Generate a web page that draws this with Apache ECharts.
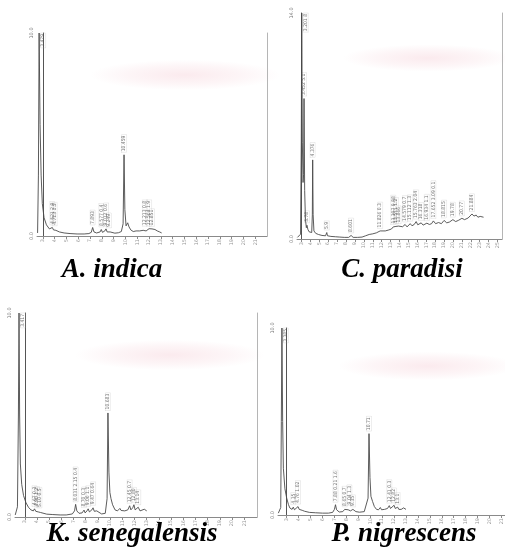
<!DOCTYPE html>
<html>
<head>
<meta charset="utf-8">
<script src="https://cdn.jsdelivr.net/npm/echarts@6/dist/echarts.min.js"></script>
<style>
  html, body { margin: 0; padding: 0; background: #fff; }
  #main { width: 505px; height: 552px; }
</style>
</head>
<body>
<div id="main"></div>
<script>
// chromatogram traces [time, response]
const indicaTrace = [[-0.45,0.15],[-0.38,3.0],[-0.32,10.0],[-0.24,5.5],[-0.15,3.0],[-0.05,1.6],[0.1,0.9],[0.3,0.55],[0.55,0.35],[0.7,0.3],[0.8,0.42],[0.9,0.3],[1.0,0.38],[1.1,0.28],[1.2,0.3],[1.4,0.2],[1.8,0.15],[2.3,0.12],[2.9,0.1],[3.5,0.1],[3.9,0.12],[4.1,0.18],[4.22,0.42],[4.33,0.2],[4.55,0.15],[4.85,0.2],[4.95,0.32],[5.05,0.18],[5.25,0.25],[5.35,0.35],[5.45,0.2],[5.6,0.28],[5.7,0.2],[5.85,0.15],[6.1,0.14],[6.4,0.16],[6.65,0.22],[6.8,0.6],[6.88,4.0],[6.95,1.3],[7.05,0.5],[7.19,0.65],[7.3,0.45],[7.45,0.3],[7.66,0.22],[7.9,0.25],[8.2,0.25],[8.5,0.28],[8.65,0.36],[8.75,0.25],[8.9,0.3],[9.0,0.36],[9.1,0.3],[9.25,0.35],[9.4,0.3],[9.5,0.32],[9.7,0.25],[9.9,0.2],[10.07,0.15]];
const paradisiTrace = [[-0.45,0.1],[-0.1,0.3],[-0.02,6],[0.03,14],[0.1,6],[0.18,3.5],[0.24,4],[0.29,8.7],[0.36,3],[0.45,1.2],[0.55,0.7],[0.62,0.85],[0.72,0.6],[0.85,0.45],[1.0,0.35],[1.15,0.4],[1.22,1.5],[1.26,4.9],[1.31,1.5],[1.4,0.5],[1.6,0.35],[1.9,0.28],[2.3,0.22],[2.7,0.2],[2.84,0.4],[2.92,0.2],[3.3,0.16],[3.8,0.14],[4.3,0.12],[4.8,0.1],[5.3,0.1],[5.57,0.22],[5.8,0.1],[6.3,0.1],[6.8,0.12],[7.2,0.2],[7.6,0.28],[8.0,0.32],[8.4,0.38],[8.83,0.5],[9.0,0.45],[9.4,0.5],[9.8,0.56],[10.1,0.62],[10.3,0.75],[10.45,0.65],[10.6,0.78],[10.75,0.68],[10.9,0.8],[11.1,0.7],[11.35,0.76],[11.63,0.9],[11.85,0.75],[12.0,0.82],[12.2,0.95],[12.4,0.82],[12.65,0.9],[12.87,1.08],[13.05,0.88],[13.25,0.92],[13.43,1.0],[13.65,0.86],[13.85,0.9],[14.07,0.98],[14.35,0.9],[14.6,0.95],[14.8,1.12],[15.05,0.95],[15.38,1.02],[15.7,0.95],[16.0,1.15],[16.3,1.0],[16.6,1.05],[16.99,1.2],[17.3,1.08],[17.6,1.15],[18.0,1.28],[18.3,1.2],[18.7,1.3],[19.13,1.55],[19.35,1.42],[19.6,1.48],[19.8,1.35],[20.05,1.4],[20.25,1.33],[20.43,1.35]];
const senegalensisTrace = [[-0.78,0.1],[-0.6,0.5],[-0.52,5],[-0.47,10],[-0.42,5],[-0.36,2.6],[-0.25,1.6],[-0.1,1.05],[0.1,0.7],[0.3,0.48],[0.5,0.35],[0.7,0.3],[0.8,0.4],[0.9,0.28],[1.0,0.36],[1.1,0.25],[1.2,0.32],[1.3,0.22],[1.45,0.18],[1.8,0.14],[2.3,0.12],[2.9,0.1],[3.4,0.1],[3.9,0.15],[4.08,0.3],[4.17,0.62],[4.27,0.3],[4.45,0.18],[4.7,0.2],[4.86,0.34],[4.95,0.2],[5.1,0.3],[5.2,0.4],[5.3,0.25],[5.5,0.35],[5.6,0.45],[5.7,0.28],[5.9,0.3],[6.0,0.22],[6.3,0.15],[6.6,0.18],[6.75,0.9],[6.82,5.1],[6.9,2.2],[6.98,1.2],[7.07,0.9],[7.2,0.6],[7.4,0.35],[7.6,0.3],[7.8,0.42],[7.9,0.32],[8.2,0.3],[8.45,0.35],[8.6,0.55],[8.7,0.35],[8.85,0.45],[8.95,0.6],[9.05,0.35],[9.2,0.3],[9.3,0.48],[9.45,0.3],[9.6,0.3],[9.8,0.38],[10.0,0.3]];
const nigrescensTrace = [[-0.7,0.1],[-0.5,0.4],[-0.45,5],[-0.4,10],[-0.34,5],[-0.28,2.5],[-0.15,1.4],[0.0,0.9],[0.15,0.55],[0.27,0.37],[0.45,0.3],[0.55,0.42],[0.65,0.28],[0.8,0.3],[0.95,0.45],[1.05,0.3],[1.2,0.38],[1.3,0.25],[1.5,0.2],[1.9,0.14],[2.4,0.12],[3.0,0.1],[3.5,0.1],[3.85,0.14],[4.0,0.3],[4.09,0.55],[4.18,0.28],[4.4,0.16],[4.7,0.18],[4.86,0.3],[4.95,0.2],[5.15,0.28],[5.25,0.38],[5.35,0.22],[5.55,0.3],[5.65,0.25],[5.8,0.18],[6.1,0.15],[6.5,0.18],[6.82,0.9],[6.9,4.35],[6.98,2.0],[7.06,1.0],[7.2,0.72],[7.35,0.45],[7.53,0.3],[7.7,0.28],[7.85,0.4],[7.95,0.28],[8.2,0.3],[8.45,0.35],[8.6,0.5],[8.7,0.35],[8.85,0.4],[9.0,0.52],[9.1,0.35],[9.3,0.42],[9.4,0.3],[9.6,0.3],[9.8,0.38],[10.0,0.3]];

// peak annotations [time of peak, label]
const indicaPeaks = [[-0.32,'3.479'],[0.8,'4.521 2.9'],[1.0,'4.713 1.5'],[4.22,'7.893'],[4.95,'8.577 0.4'],[5.35,'9.012 0.6'],[5.6,'9.249'],[6.88,'10.459'],[8.65,'12.213 0.8'],[9.0,'12.564 1.9'],[9.25,'12.851']];
const paradisiPeaks = [[0.03,'3.201 8'],[0.29,'3.452 5.1'],[0.62,'3.78'],[1.26,'4.376'],[2.84,'5.9'],[5.57,'8.601'],[8.83,'11.826 0.3'],[10.3,'13.307 0.88'],[10.6,'13.571 1.2'],[10.9,'13.866'],[11.63,'14.579 0.7'],[12.2,'15.112 1.3'],[12.87,'15.763 2.04'],[13.43,'16.318'],[14.07,'16.934 1.1'],[14.8,'17.652 3.09 0.1'],[16.0,'18.815'],[16.99,'19.78'],[18.0,'20.77'],[19.13,'21.884']];
const senegalensisPeaks = [[-0.47,'3.417'],[0.8,'4.67 0.3'],[1.0,'4.90 1.2'],[1.2,'5.10 0.5'],[4.17,'8.031 2.15 0.4'],[4.86,'8.70 0.3'],[5.2,'9.06 1.1'],[5.6,'9.47 0.64'],[6.82,'10.683'],[8.6,'12.45 0.7'],[8.95,'12.80'],[9.3,'13.14']];
const nigrescensPeaks = [[-0.4,'3.385'],[0.55,'4.35'],[0.95,'4.76 1.02'],[4.09,'7.88 0.21 1.6'],[4.86,'8.65 0.7'],[5.25,'9.04 1.3'],[5.55,'9.35'],[6.9,'10.71'],[8.6,'12.41 0.3'],[9.0,'12.82'],[9.3,'13.1']];

// tick positions along each time axis
const ticksIndica = [0,1,2,3,4,5,6,7,8,9,10,11,12,13,14,15,16,17,18];
const ticksParadisi = [0,1,2,3,4,5,6,7,8,9,10,11,12,13,14,15,16,17,18,19,20,21,22];
const ticksSenegalensis = [0,1,2,3,4,5,6,7,8,9,10,11,12,13,14,15,16,17,18];
const ticksNigrescens = [0,1,2,3,4,5,6,7,8,9,10,11,12,13,14,15,16,17,18];

const titles = ['A. indica', 'C. paradisi', 'K. senegalensis', 'P. nigrescens'];

const panels = [
  { trace: indicaTrace, peaks: indicaPeaks, ticks: ticksIndica, xMin: -0.5, xMax: 19, yMax: 10,
    grid: { left: 37, top: 33, width: 230, height: 203 }, border: true, title: [112, 257] },
  { trace: paradisiTrace, peaks: paradisiPeaks, ticks: ticksParadisi, xMin: -0.5, xMax: 22.5, yMax: 14,
    grid: { left: 297, top: 13, width: 205, height: 226 }, border: true, title: [402, 257] },
  { trace: senegalensisTrace, peaks: senegalensisPeaks, ticks: ticksSenegalensis, xMin: -0.8, xMax: 19.04, yMax: 10,
    grid: { left: 15, top: 313, width: 242, height: 204 }, border: true, title: [132, 521] },
  { trace: nigrescensTrace, peaks: nigrescensPeaks, ticks: ticksNigrescens, xMin: -0.73, xMax: 18.3, yMax: 10,
    grid: { left: 278, top: 328, width: 228, height: 187 }, border: false, title: [404, 521] }
];

const myChart = echarts.init(document.getElementById('main'));

const grid = [], xAxis = [], yAxis = [], series = [], title = [];
panels.forEach((p, i) => {
  grid.push(p.grid);
  xAxis.push({
    type: 'value', gridIndex: i, min: p.xMin, max: p.xMax,
    axisLine: { show: true, lineStyle: { color: '#8a8a8a', width: 1 } },
    axisTick: { show: true, customValues: p.ticks, length: 3, lineStyle: { color: '#8a8a8a' } },
    axisLabel: { show: true, customValues: p.ticks, fontSize: 5, rotate: 90, margin: 3, color: '#999',
      fontFamily: 'DejaVu Sans', formatter: v => String(v + 3) },
    splitLine: { show: false }
  });
  // left intensity axis
  yAxis.push({
    type: 'value', gridIndex: i, min: 0, max: p.yMax, interval: p.yMax,
    axisLine: { show: true, lineStyle: { color: '#555', width: 1 } },
    axisTick: { show: false },
    axisLabel: { fontSize: 5, rotate: 90, margin: 3, color: '#777', fontFamily: 'DejaVu Sans',
      formatter: v => v.toFixed(1) },
    splitLine: { show: false }
  });
  // right frame line
  yAxis.push({
    type: 'value', gridIndex: i, position: 'right', min: 0, max: p.yMax,
    axisLine: { show: p.border, lineStyle: { color: '#b5b5b5', width: 1 } },
    axisTick: { show: false }, axisLabel: { show: false }, splitLine: { show: false }
  });
  series.push({
    type: 'line', xAxisIndex: i, yAxisIndex: i * 2, data: p.trace,
    showSymbol: false, smooth: false, silent: true,
    lineStyle: { color: '#4a4a4a', width: 0.9 }
  });
  // peak labels sit on the trace at the peak time
  const labelData = p.peaks.map(([t, txt]) => {
    const pt = p.trace.find(d => d[0] === t);
    const item = { value: [t, pt ? pt[1] : 0], name: txt };
    if (pt && pt[1] >= p.yMax) {
      item.label = { position: 'right', distance: 1, align: 'right', verticalAlign: 'top' };
    }
    return item;
  });
  series.push({
    type: 'scatter', xAxisIndex: i, yAxisIndex: i * 2, data: labelData,
    symbolSize: 1, itemStyle: { color: 'rgba(0,0,0,0)' }, silent: true,
    label: {
      show: true, formatter: '{b}', position: 'top', distance: 2, rotate: 90,
      align: 'left', verticalAlign: 'middle',
      fontSize: 5, color: '#555', fontFamily: 'DejaVu Sans Condensed',
      borderColor: '#aaa', borderWidth: 0.5, borderType: 'dotted', padding: [0, 1]
    }
  });
  title.push({
    text: titles[i], left: p.title[0], top: p.title[1], textAlign: 'center', padding: 0,
    textStyle: { fontFamily: 'Liberation Serif', fontWeight: 'bold', fontStyle: 'italic',
      fontSize: 27, color: '#000' }
  });
});

// faint pink smear from the scan: a soft circle squashed into a streak
const smears = [[185, 75, 95], [428, 58, 85], [170, 355, 95], [428, 366, 90]];
const graphic = smears.map(([cx, cy, r]) => ({
  type: 'circle', silent: true, z: -1,
  x: cx, y: cy, scaleY: 0.16,
  shape: { cx: 0, cy: 0, r: r },
  style: {
    fill: new echarts.graphic.RadialGradient(0.5, 0.5, 0.5, [
      { offset: 0, color: 'rgba(236,160,176,0.22)' },
      { offset: 0.6, color: 'rgba(236,160,176,0.10)' },
      { offset: 1, color: 'rgba(236,160,176,0)' }
    ])
  }
}));

const option = {
  backgroundColor: '#fff',
  animation: false,
  title: title,
  grid: grid,
  xAxis: xAxis,
  yAxis: yAxis,
  series: series,
  graphic: graphic
};
myChart.setOption(option);
window.onresize = function () {
  myChart.resize();
};
</script>
</body>
</html>
